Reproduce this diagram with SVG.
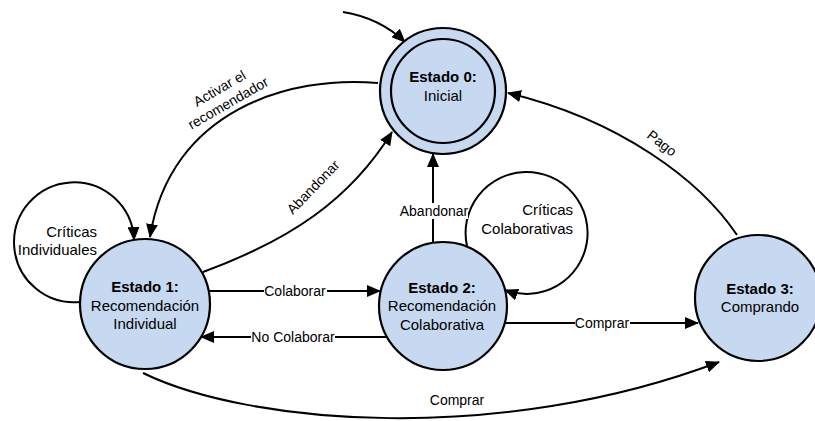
<svg xmlns="http://www.w3.org/2000/svg" width="815" height="421" viewBox="0 0 815 421">
<defs>
<marker id="arr" markerUnits="userSpaceOnUse" markerWidth="14" markerHeight="12" refX="13" refY="6" orient="auto">
<path d="M0,0 L14,6 L0,12 z" fill="#000"/>
</marker>
<style>
.st{fill:#c6d9f0;stroke:#000;stroke-width:2.2}
.in{fill:none;stroke:#000;stroke-width:2.2}
.e{fill:none;stroke:#000;stroke-width:2}
.ea{fill:none;stroke:#000;stroke-width:2;marker-end:url(#arr)}
text{font-family:"Liberation Sans",Arial,sans-serif;fill:#000}
.t{font-size:15px;text-anchor:middle}
.b{font-weight:bold}
.l{font-size:14px;text-anchor:middle}
.lr{font-size:15px;text-anchor:end}
.bg{fill:#fff}
</style>
</defs>
<rect width="815" height="421" fill="#fff"/>
<g id="connectors">
<path class="ea" d="M343,12 Q380,18 405,42"/>
<path class="ea" d="M378,83 C290,75 170,110 150,237"/>
<path class="ea" d="M203,272 C290,240 350,200 392,132"/>
<path class="ea" d="M80,302 A60,60 0 1 1 134,240"/>
<path class="ea" d="M467,246 A61,61 0 1 1 505,290"/>
<path class="ea" d="M433,242 L433,154"/>
<path class="ea" d="M209,291 L380,291"/>
<path class="ea" d="M387,337 L201,337"/>
<path class="ea" d="M505,323 L698,323"/>
<path class="ea" d="M143,373 C250,425 500,445 719,362"/>
<path class="ea" d="M737,235 C700,180 620,120 508,93"/>
<g transform="translate(224,96) rotate(-30)">
<text class="l" x="0" y="-4">Activar el</text>
<text class="l" x="0" y="13">recomendador</text>
</g>
<text class="l" transform="translate(313,187) rotate(-46)" x="0" y="5">Abandonar</text>
<text class="l" transform="translate(662,143) rotate(38)" x="0" y="5">Pago</text>
<text class="lr" x="97" y="237">Críticas</text>
<text class="lr" x="97" y="255">Individuales</text>
<text class="lr" x="573" y="215">Críticas</text>
<text class="lr" x="573" y="234">Colaborativas</text>
<rect class="bg" x="400" y="203" width="68" height="16"/>
<text class="l" x="434" y="216">Abandonar</text>
<rect class="bg" x="264" y="283" width="63" height="16"/>
<text class="l" x="295" y="296">Colaborar</text>
<rect class="bg" x="251" y="329" width="84" height="16"/>
<text class="l" x="293" y="342">No Colaborar</text>
<rect class="bg" x="575" y="315" width="55" height="16"/>
<text class="l" x="602" y="328">Comprar</text>
<text class="l" x="457" y="405">Comprar</text>
</g>
<g id="estado0">
<circle class="st" cx="443" cy="91" r="63"/>
<circle class="in" cx="443" cy="91" r="52"/>
<text class="t b" x="443" y="82">Estado 0:</text>
<text class="t" x="443" y="101">Inicial</text>
</g>
<g id="estado1">
<circle class="st" cx="145" cy="304" r="65"/>
<text class="t b" x="145" y="292">Estado 1:</text>
<text class="t" x="145" y="311">Recomendación</text>
<text class="t" x="145" y="329">Individual</text>
</g>
<g id="estado2">
<circle class="st" cx="443" cy="306" r="64"/>
<text class="t b" x="442" y="293">Estado 2:</text>
<text class="t" x="442" y="311">Recomendación</text>
<text class="t" x="442" y="330">Colaborativa</text>
</g>
<g id="estado3">
<circle class="st" cx="758" cy="298" r="63"/>
<text class="t b" x="760" y="294">Estado 3:</text>
<text class="t" x="760" y="312">Comprando</text>
</g>
</svg>
